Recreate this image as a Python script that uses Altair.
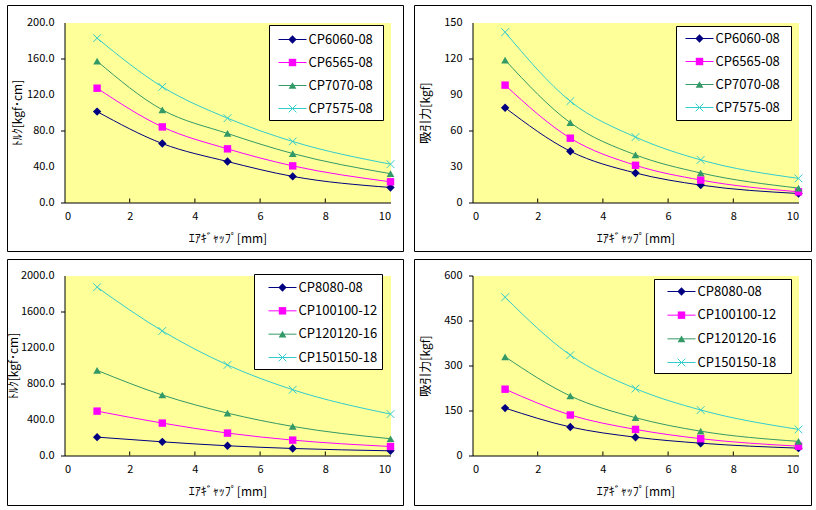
import altair as alt
import pandas as pd

# ---- data ----
gap_mm = [1, 3, 5, 7, 10]
x_ticks = [0, 2, 4, 6, 8, 10]

names_small = ["CP6060-08", "CP6565-08", "CP7070-08", "CP7575-08"]
names_large = ["CP8080-08", "CP100100-12", "CP120120-16", "CP150150-18"]

torque_cp6060 = [101.0, 65.5, 45.5, 29.0, 16.7]
torque_cp6565 = [127.0, 84.0, 59.6, 40.7, 23.0]
torque_cp7070 = [157.0, 103.0, 76.7, 54.4, 32.0]
torque_cp7575 = [182.6, 128.5, 93.7, 67.8, 42.6]

force_cp6060 = [79.0, 42.7, 24.6, 14.5, 7.5]
force_cp6565 = [97.8, 53.6, 31.0, 18.7, 8.9]
force_cp7070 = [118.7, 66.5, 39.7, 24.6, 12.0]
force_cp7575 = [141.9, 84.4, 54.5, 35.5, 20.1]

torque_cp8080 = [204.0, 152.0, 108.0, 78.0, 52.0]
torque_cp100100 = [493.0, 360.0, 249.0, 171.0, 100.0]
torque_cp120120 = [946.0, 672.0, 471.0, 323.0, 186.0]
torque_cp150150 = [1870.0, 1384.0, 1006.0, 731.0, 460.0]

force_cp8080 = [158.0, 95.0, 61.0, 41.0, 24.5]
force_cp100100 = [221.0, 135.0, 87.0, 56.0, 31.0]
force_cp120120 = [329.0, 198.5, 126.0, 81.0, 47.0]
force_cp150150 = [527.5, 334.6, 223.0, 151.7, 87.0]

yticks_torque_small = [0, 40, 80, 120, 160, 200]
yticks_force_small = [0, 30, 60, 90, 120, 150]
yticks_torque_large = [0, 400, 800, 1200, 1600, 2000]
yticks_force_large = [0, 150, 300, 450, 600]

x_title = "ｴｱｷﾞｬｯﾌﾟ[mm]"
torque_title = "ﾄﾙｸ[kgf･cm]"
force_title = "吸引力[kgf]"

# ---- style ----
COLORS = ["#000080", "#FF00FF", "#339966", "#33CCCC"]
SHAPES = ["diamond", "square", "triangle-up", "M-1,-1L1,1M-1,1L1,-1"]
FILLED = [True, True, True, False]
MSIZE = [70, 55, 60, 60]
FONT = "Noto Sans CJK JP"
W, H = 326, 180


def panel(names, values, yticks, fmt, ytitle, leg):
    ymax = yticks[-1]
    one = pd.DataFrame({"k": [0]})
    tick_df = pd.DataFrame({"gap": x_ticks[1:-1]})
    ytick_df = pd.DataFrame({"value": yticks})

    x_axis = alt.X(
        "gap:Q",
        scale=alt.Scale(domain=[0, 10], nice=False),
        axis=alt.Axis(
            values=x_ticks, format="d", title=x_title, tickSize=0,
            labelPadding=8, titleX=W / 2, titleY=36, titleBaseline="middle",
            titleAlign="center", labelOverlap=False,
        ),
    )
    y_axis = alt.Y(
        "value:Q",
        scale=alt.Scale(domain=[0, ymax], nice=False),
        axis=alt.Axis(
            values=yticks, title=ytitle, labels=False,
            tickSize=4, titleX=leg["ttx"], titleY=H / 2,
            titleAngle=270, titleAlign="center", titleBaseline="middle",
        ),
    )

    layers = [
        alt.Chart(one).mark_rect(fill="transparent", stroke="black", strokeWidth=1).encode(
            x=alt.value(leg["fx0"]), x2=alt.value(leg["fx1"]),
            y=alt.value(leg["fy0"]), y2=alt.value(leg["fy1"]),
        ),
        alt.Chart(tick_df).mark_rule(color="black", strokeWidth=1).encode(
            x=x_axis, y=alt.value(H), y2=alt.value(H - 4)
        ),
        alt.Chart(ytick_df).mark_text(
            align="right", baseline="middle", font=FONT, fontSize=11, color="black"
        ).encode(
            x=alt.value(-10), y=y_axis, text=alt.Text("value:Q", format=fmt)
        ),
    ]
    # series lines and markers
    for i, vals in enumerate(values):
        df = pd.DataFrame({"gap": gap_mm, "value": vals})
        layers.append(
            alt.Chart(df).mark_line(
                interpolate="monotone", strokeWidth=1, color=COLORS[i]
            ).encode(x="gap:Q", y="value:Q")
        )
    for i, vals in enumerate(values):
        df = pd.DataFrame({"gap": gap_mm, "value": vals})
        layers.append(
            alt.Chart(df).mark_point(
                filled=FILLED[i], shape=SHAPES[i], size=MSIZE[i],
                color=COLORS[i], strokeWidth=1, opacity=1,
            ).encode(x="gap:Q", y="value:Q")
        )
    # legend
    layers.append(
        alt.Chart(one).mark_rect(fill="white", stroke="black", strokeWidth=1).encode(
            x=alt.value(leg["bx0"]), x2=alt.value(leg["bx1"]),
            y=alt.value(leg["by0"]), y2=alt.value(leg["by1"]),
        )
    )
    tx = leg["tx"]
    step = (leg["r1"] - leg["r0"]) / 3
    for i, name in enumerate(names):
        ry = leg["r0"] + i * step
        layers.append(
            alt.Chart(one).mark_rule(strokeWidth=1, color=COLORS[i]).encode(
                x=alt.value(tx - 30), x2=alt.value(tx - 2), y=alt.value(ry)
            )
        )
        layers.append(
            alt.Chart(one).mark_point(
                filled=FILLED[i], shape=SHAPES[i], size=MSIZE[i],
                color=COLORS[i], strokeWidth=1, opacity=1,
            ).encode(x=alt.value(tx - 16), y=alt.value(ry))
        )
        layers.append(
            alt.Chart(one).mark_text(
                align="left", baseline="middle", font=FONT, fontSize=13,
                color="black", text=name,
            ).encode(x=alt.value(tx), y=alt.value(ry))
        )

    return alt.layer(*layers).properties(width=W, height=H)


leg1 = dict(fx0=-57, fx1=339, fy0=-17, fy1=229, bx0=205, bx1=319, by0=3, by1=98, tx=244, r0=17, r1=86, ttx=-47)
leg2 = dict(fx0=-58, fx1=339, fy0=-17, fy1=229, bx0=204, bx1=319, by0=4, by1=98, tx=243, r0=16, r1=85, ttx=-47)
leg3 = dict(fx0=-57, fx1=339, fy0=-16, fy1=230, bx0=190, bx1=318, by0=-1, by1=94, tx=234, r0=12, r1=82, ttx=-51)
leg4 = dict(fx0=-58, fx1=339, fy0=-16, fy1=230, bx0=182, bx1=319, by0=4, by1=98, tx=225, r0=16, r1=87, ttx=-47)

p1 = panel(names_small, [torque_cp6060, torque_cp6565, torque_cp7070, torque_cp7575], yticks_torque_small, ".1f", torque_title, leg1)
p2 = panel(names_small, [force_cp6060, force_cp6565, force_cp7070, force_cp7575], yticks_force_small, "d", force_title, leg2)
p3 = panel(names_large, [torque_cp8080, torque_cp100100, torque_cp120120, torque_cp150150], yticks_torque_large, ".1f", torque_title, leg3)
p4 = panel(names_large, [force_cp8080, force_cp100100, force_cp120120, force_cp150150], yticks_force_large, "d", force_title, leg4)

chart = (
    alt.concat(p1, p2, p3, p4, columns=2, spacing={"row": 73, "column": 82}, bounds="flush")
    .resolve_scale(x="independent", y="independent")
    .properties(padding={"left": 6.5, "top": 4.5, "right": 0, "bottom": 0}, background="white")
    .configure_view(fill="#FFFF99", stroke="transparent")
    .configure_axis(
        labelFont=FONT, labelFontSize=11, labelColor="black",
        titleFont=FONT, titleFontSize=12, titleFontWeight="normal", titleColor="black",
        domainColor="black", domainWidth=1, tickColor="black", grid=False,
        labelOverlap=False,
    )
)

chart.save("out.html", embed_options={"renderer": "svg", "actions": False})
